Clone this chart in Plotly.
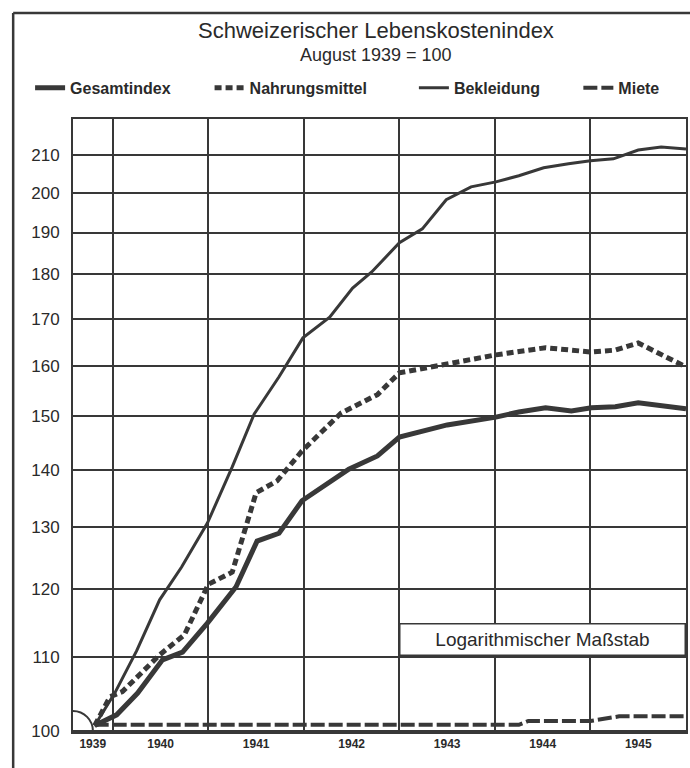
import math
import plotly.graph_objects as go

# ---------------- data ----------------
years_gesamt = [1939.81, 1940.04, 1940.26, 1940.52, 1940.73, 1940.99, 1941.29, 1941.51,
                1941.74, 1941.98, 1942.47, 1942.77, 1943.0, 1943.5, 1944.01, 1944.25,
                1944.53, 1944.8, 1945.01, 1945.26, 1945.5, 1946.0]
gesamtindex = [100.7, 102.1, 105.0, 109.6, 110.7, 114.9, 120.4, 127.7,
               129.0, 134.5, 140.1, 142.5, 146.0, 148.3, 149.8, 150.8,
               151.6, 151.0, 151.6, 151.8, 152.6, 151.4]

years_nahrung = [1939.81, 1939.97, 1940.1, 1940.31, 1940.49, 1940.75, 1941.0, 1941.25,
                 1941.5, 1941.72, 1941.98, 1942.39, 1942.77, 1943.0, 1943.52, 1944.01,
                 1944.53, 1945.01, 1945.26, 1945.5, 1946.0]
nahrungsmittel = [100.7, 104.5, 105.2, 107.8, 110.3, 113.2, 120.8, 122.7,
                  135.9, 138.0, 143.4, 150.6, 154.2, 158.6, 160.6, 162.3,
                  163.8, 162.9, 163.3, 164.8, 159.8]

years_bekleidung = [1939.81, 1940.02, 1940.25, 1940.49, 1940.72, 1940.99, 1941.25, 1941.48,
                    1941.74, 1941.99, 1942.27, 1942.51, 1942.71, 1943.0, 1943.24, 1943.49,
                    1943.75, 1944.01, 1944.25, 1944.51, 1944.77, 1945.0, 1945.24, 1945.5,
                    1945.74, 1946.0]
bekleidung = [100.7, 105.0, 110.9, 118.4, 123.5, 130.7, 140.5, 150.4,
              157.8, 165.9, 170.4, 176.9, 180.6, 187.5, 190.9, 198.2,
              201.5, 202.8, 204.4, 206.5, 207.6, 208.4, 208.9, 211.3,
              212.1, 211.6]

years_miete = [1939.81, 1944.25, 1944.35, 1945.0, 1945.3, 1946.0]
miete = [100.8, 100.8, 101.3, 101.3, 101.9, 101.9]

year_labels = ["1939", "1940", "1941", "1942", "1943", "1944", "1945"]
year_label_pos = [1939.79, 1940.5, 1941.5, 1942.5, 1943.5, 1944.5, 1945.5]
year_grid = [1940, 1941, 1942, 1943, 1944, 1945]
y_ticks = [100, 110, 120, 130, 140, 150, 160, 170, 180, 190, 200, 210]

# ---------------- styling ----------------
INK = "#383838"
TXT = "#2a2a2a"
FONT = "Liberation Sans, Arial, sans-serif"

fig = go.Figure()
fig.add_trace(go.Scatter(x=years_gesamt, y=gesamtindex, mode="lines", name="Gesamtindex",
                         line=dict(color=INK, width=5), legend="legend"))
fig.add_trace(go.Scatter(x=years_nahrung, y=nahrungsmittel, mode="lines", name="Nahrungsmittel",
                         line=dict(color=INK, width=5, dash="7px,4px"), legend="legend2"))
fig.add_trace(go.Scatter(x=years_bekleidung, y=bekleidung, mode="lines", name="Bekleidung",
                         line=dict(color=INK, width=3), legend="legend3"))
fig.add_trace(go.Scatter(x=years_miete, y=miete, mode="lines", name="Miete",
                         line=dict(color=INK, width=4, dash="14px,4px"), legend="legend4"))

legend_font = dict(size=16, family=FONT, color=TXT, weight="bold")


def leg(x):
    return dict(orientation="h", x=x, y=1.051, xanchor="left", yanchor="middle",
                font=legend_font, bgcolor="rgba(0,0,0,0)", itemwidth=30)


fig.update_layout(
    width=690, height=768,
    margin=dict(l=73, r=2, t=119, b=36, pad=0),
    paper_bgcolor="white", plot_bgcolor="white",
    font=dict(family=FONT, color=TXT),
    showlegend=True,
    legend=leg(-0.070),
    legend2=leg(0.2228),
    legend3=leg(0.5561),
    legend4=leg(0.8244),
)

fig.update_xaxes(
    range=[1939.583, 1946.0],
    tickmode="array", tickvals=year_label_pos, ticktext=year_labels,
    tickfont=dict(size=12, family=FONT, color=TXT, weight="bold"),
    ticks="", showgrid=False, zeroline=False,
    showline=True, linecolor=INK, linewidth=2, mirror=True,
    minor=dict(tickmode="array", tickvals=year_grid, showgrid=True,
               gridcolor=INK, gridwidth=1.5, ticks=""),
)
fig.update_yaxes(
    type="log", range=[math.log10(99.87), math.log10(219.9)],
    tickmode="array", tickvals=y_ticks, ticktext=[str(v) for v in y_ticks],
    tickfont=dict(size=17, family=FONT, color=TXT),
    ticks="", ticklabelstandoff=8,
    showgrid=True, gridcolor=INK, gridwidth=1.5, zeroline=False,
    showline=True, linecolor=INK, linewidth=2, mirror=True,
)

# Titles
fig.add_annotation(text="Schweizerischer Lebenskostenindex", xref="paper", yref="paper",
                   x=0.495, y=1.145, showarrow=False, xanchor="center", yanchor="middle",
                   font=dict(size=22, family=FONT, color=TXT))
fig.add_annotation(text="August 1939 = 100", xref="paper", yref="paper",
                   x=0.495, y=1.105, showarrow=False, xanchor="center", yanchor="middle",
                   font=dict(size=18, family=FONT, color=TXT))

# "Logarithmischer Maßstab" box
fig.add_annotation(text="Logarithmischer Maßstab", xref="x", yref="y",
                   x=1944.5, y=math.log10(112.5), showarrow=False,
                   xanchor="center", yanchor="middle",
                   width=284, height=30, bgcolor="white",
                   bordercolor=INK, borderwidth=1.5, borderpad=0,
                   font=dict(size=19, family=FONT, color=TXT))

# Quarter-circle mark at the origin
fig.add_shape(type="path", xref="paper", yref="paper",
              path="M 0,0.0343 C 0.018,0.0343 0.0325,0.0196 0.0325,0.0016",
              line=dict(color=INK, width=2))

# Outer frame of the printed figure
fig.add_shape(type="line", xref="paper", yref="paper", x0=-0.0976, x1=-0.0976, y0=-0.1, y1=1.173,
              line=dict(color=INK, width=2.5))
fig.add_shape(type="line", xref="paper", yref="paper", x0=-0.0976, x1=1.01, y0=1.173, y1=1.173,
              line=dict(color=INK, width=2.5))

# remove the default page margin so the figure fills the 690x768 window exactly
fig.write_html("out.html", config={"displayModeBar": False},
               post_script="document.body.style.margin='0';")
